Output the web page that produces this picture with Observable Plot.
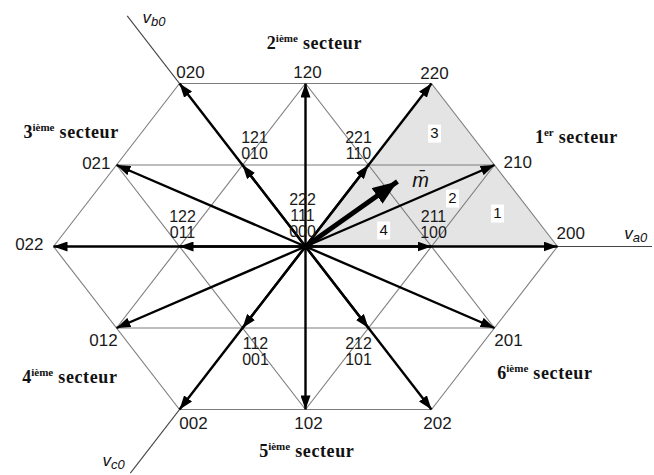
<!DOCTYPE html>
<html><head><meta charset="utf-8">
<script src="https://cdn.jsdelivr.net/npm/d3@7"></script>
<script src="https://cdn.jsdelivr.net/npm/@observablehq/plot@0.6"></script>
<style>body{margin:0;background:#fff} svg{display:block}</style>
</head><body><div id="chart"></div>
<script>
// ---- data ----
const outerVectors = ["200","210","220","120","020","021","022","012","002","102","202","201"];
const innerVectors = ["100","110","010","011","001","101"];
const innerRedundant = ["211","221","121","122","112","212"];
const zeroStates = ["222","111","000"];
const gridSegments = [
  ["020","220"],["021","210"],["022","200"],["012","201"],["002","202"],
  ["022","020"],["012","120"],["002","220"],["102","210"],["202","200"],
  ["200","220"],["201","120"],["202","020"],["102","021"],["002","022"]
];
const sectorTriangle = ["000","220","200"];
const regionNames = ["1","2","3","4"];
const regionAlpha = [1.524, 1.167, 1.024, 0.62];
const regionBeta  = [0.35, 0.51, 1.20, 0.17];
const sectorNames = ["1er secteur","2ième secteur","3ième secteur","4ième secteur","5ième secteur","6ième secteur"];
const sectorAlpha = [2.15, 0.071, -1.86, -1.87, 0.01, 1.90];
const sectorBeta  = [1.16, 2.157, 1.21, -1.39, -2.18, -1.35];
const axisNames   = ["va0","vb0","vc0"];
const axisAngles  = [0, 120, 240];
const axisLengths = [2.75, 2.83, 2.78];
const axisLabelAlpha = [2.53, -1.294, -1.611];
const axisLabelBeta  = [0.14, 2.43, -2.27];
const mAlpha = 0.73, mBeta = 0.69;

// ---- layout (pixel offsets of labels) ----
const outerLabelLayout = {
  "200":[-1,-13,"start"], "210":[9,-2,"start"], "220":[3,-10,"middle"], "120":[2,-11,"middle"],
  "020":[11,-11,"middle"], "021":[-6,-1,"end"], "022":[-10,-2,"end"], "012":[-13,13,"middle"],
  "002":[14,14,"middle"], "102":[3,14,"middle"], "202":[6,14,"middle"], "201":[14,13,"middle"]
};
const innerLabelLayout = {
  "100":[2,-22], "110":[-10,-19], "010":[12,-19], "011":[3,-21.5], "001":[13,24], "101":[-10,24], "000":[-3,-31]
};

// ---- helpers ----
const S3 = Math.sqrt(3);
function pos(code) {
  const [a,b,c] = code.split("").map(Number);
  return {alpha: a - (b + c) / 2, beta: (S3 / 2) * (b - c)};
}
const vectors = [...outerVectors, ...innerVectors].map(code => ({code, ...pos(code)}));
const grid = gridSegments.map(([p, q]) => ({x1: pos(p).alpha, y1: pos(p).beta, x2: pos(q).alpha, y2: pos(q).beta}));
const axes = axisNames.map((n, i) => ({name: n, x2: axisLengths[i]*Math.cos(axisAngles[i]*Math.PI/180), y2: axisLengths[i]*Math.sin(axisAngles[i]*Math.PI/180)}));
const tri = sectorTriangle.map(c => pos(c));
const regions = regionNames.map((n, i) => ({n, x: regionAlpha[i], y: regionBeta[i]}));
const sectors = sectorNames.map((n, i) => ({n, x: sectorAlpha[i], y: sectorBeta[i]}));
const axisLabels = axisNames.map((n, i) => ({n, x: axisLabelAlpha[i], y: axisLabelBeta[i]}));
const innerLabels = innerVectors.map((v, i) => ({code: v, text: innerRedundant[i] + "\n" + v, ...pos(v)}));
innerLabels.push({code: "000", text: zeroStates.join("\n"), ...pos("000")});

const font = "'Liberation Sans', Arial, sans-serif";
const labelMarks = [
  ...outerVectors.map(code => {
    const [dx, dy, anchor] = outerLabelLayout[code];
    return Plot.text([{code, ...pos(code)}], {x: "alpha", y: "beta", text: "code", dx, dy, textAnchor: anchor,
      fontSize: 17, fontFamily: font, fill: "#1a1a1a"});
  }),
  ...innerLabels.map(l => {
    const [dx, dy] = innerLabelLayout[l.code];
    return Plot.text([l], {x: "alpha", y: "beta", text: "text", dx, dy, lineHeight: 1.0,
      fontSize: 16, fontFamily: font, fill: "#1a1a1a"});
  })
];

const chart = Plot.plot({
  width: 654, height: 475,
  marginTop: 0, marginRight: 0, marginBottom: 0, marginLeft: 0,
  x: {domain: [-305/126, 349/126], axis: null},
  y: {domain: [-229/94.1, 246/94.1], axis: null},
  style: {background: "#fff", overflow: "visible"},
  marks: [
    Plot.areaY(tri, {x: "alpha", y: "beta", fill: "#e4e4e4", curve: "linear"}),
    Plot.link(grid, {x1: "x1", y1: "y1", x2: "x2", y2: "y2", stroke: "#7c7c7c", strokeWidth: 1.1}),
    Plot.link(axes, {x1: 0, y1: 0, x2: "x2", y2: "y2", stroke: "#444", strokeWidth: 1.1}),
    Plot.link(vectors, {x1: 0, y1: 0, x2: "alpha", y2: "beta", stroke: "#000", strokeWidth: 2.4, markerEnd: "arrow"}),
    Plot.link([{x: mAlpha, y: mBeta}], {x1: 0, y1: 0, x2: "x", y2: "y", stroke: "#000", strokeWidth: 5, markerEnd: "arrow"}),
    Plot.text([{x: mAlpha, y: mBeta}], {x: "x", y: "y", text: () => "m\u0304", dx: 23, dy: -1,
      fontSize: 20, fontStyle: "italic", fontFamily: font, fill: "#111"}),
    Plot.dot(regions, {x: "x", y: "y", symbol: {draw(ctx){ ctx.rect(-6.5, -9, 13, 18); }}, fill: "#fff", stroke: null}),
    Plot.text(regions, {x: "x", y: "y", text: "n", fontSize: 15, fontFamily: font, fill: "#111"}),
    ...labelMarks,
    Plot.text(sectors, {x: "x", y: "y", text: "n", fontSize: 18, fontWeight: "bold",
      fontFamily: "'Liberation Serif', 'Times New Roman', serif", fill: "#111"}),
    Plot.text(axisLabels, {x: "x", y: "y", text: "n", textAnchor: "start", fontSize: 17, fontStyle: "italic",
      fontFamily: font, fill: "#111"})
  ]
});

// ---- post-processing: filled arrowheads, superscripts, subscripts ----
const NS = "http://www.w3.org/2000/svg";
chart.querySelectorAll("marker").forEach(mk => {
  const g = mk.parentNode;
  const sw = +(g.getAttribute("stroke-width") || 1);
  const big = sw >= 4;
  const L = big ? 25 : 14, W = big ? 19 : 10;
  mk.setAttribute("viewBox", `${-L} ${-W/2} ${L} ${W}`);
  mk.setAttribute("markerWidth", L);
  mk.setAttribute("markerHeight", W);
  mk.setAttribute("markerUnits", "userSpaceOnUse");
  mk.setAttribute("refX", 0); mk.setAttribute("refY", 0);
  mk.setAttribute("orient", "auto");
  mk.setAttribute("fill", "#000"); mk.setAttribute("stroke", "none");
  while (mk.firstChild) mk.removeChild(mk.firstChild);
  const p = document.createElementNS(NS, "path");
  p.setAttribute("d", `M0,0L${-L},${-W/2}L${-L},${W/2}Z`);
  p.setAttribute("fill", "#000"); p.setAttribute("stroke", "none");
  mk.appendChild(p);
});
function tspan(parent, txt, attrs) {
  const t = document.createElementNS(NS, "tspan");
  t.textContent = txt;
  for (const k in attrs) t.setAttribute(k, attrs[k]);
  parent.appendChild(t);
}
chart.querySelectorAll("text").forEach(t => {
  const s = t.textContent;
  let m = s.match(/^(\d)(ième|er) (secteur)$/);
  if (m) {
    t.textContent = "";
    tspan(t, m[1], {});
    tspan(t, m[2], {"font-size": 11, dy: -7});
    tspan(t, " " + m[3], {dy: 7, "letter-spacing": 0.6});
    return;
  }
  m = s.match(/^v([abc]0)$/);
  if (m) {
    t.textContent = "";
    tspan(t, "v", {});
    tspan(t, m[1], {"font-size": 13, dy: 3});
  }
});
document.getElementById("chart").appendChild(chart);
</script>
</body></html>
